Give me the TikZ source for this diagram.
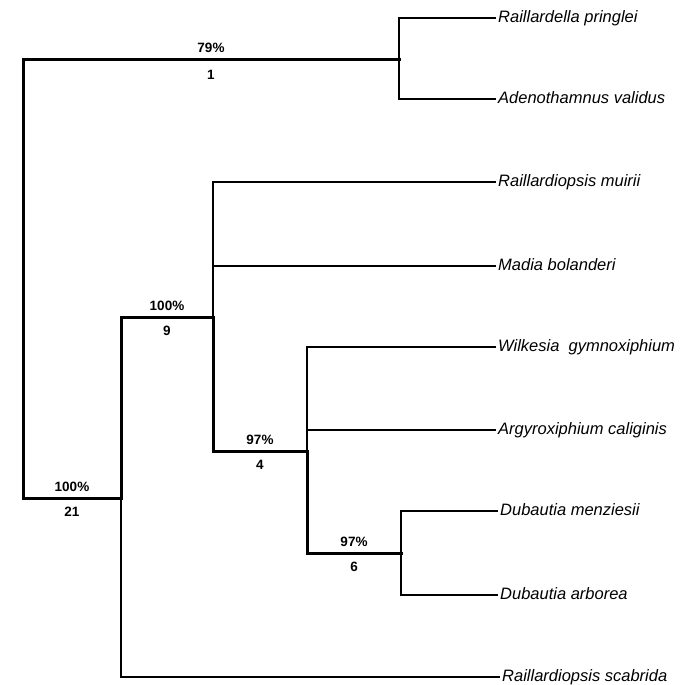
\documentclass[tikz,border=0pt]{standalone}
\usepackage{fontspec}
\setmainfont{Liberation Sans}
\begin{document}
\begin{tikzpicture}[x=1pt, y=-1pt, line cap=rect,
  branch/.style={line width=3pt},
  twig/.style={line width=2.7pt},
  taxon/.style={anchor=west, inner sep=3pt, text height=12pt, text depth=3.5pt,
    font=\fontsize{16.5}{19}\selectfont\itshape},
  support/.style={font=\fontsize{13.5}{16}\selectfont\bfseries, inner sep=3pt}]
  \useasboundingbox (0,0) rectangle (683,685);
  % clades
  \coordinate (root) at (23,280);
  \coordinate (c79) at (399,60);
  \coordinate (c21) at (121,498);
  \coordinate (c9) at (213,317);
  \coordinate (c4) at (307,451);
  \coordinate (c6) at (401,553);
  % taxa
  \node[taxon] (pringlei) at (495,18) {Raillardella pringlei};
  \node[taxon] (validus) at (495,99) {Adenothamnus validus};
  \node[taxon] (muirii) at (495,182) {Raillardiopsis muirii};
  \node[taxon] (bolanderi) at (495,266) {Madia bolanderi};
  \node[taxon] (gymnox) at (495,347) {Wilkesia\ \ gymnoxiphium};
  \node[taxon] (caliginis) at (495,430) {Argyroxiphium caliginis};
  \node[taxon] (menziesii) at (497,511) {Dubautia menziesii};
  \node[taxon] (arborea) at (497,595) {Dubautia arborea};
  \node[taxon] (scabrida) at (499,677) {Raillardiopsis scabrida};
  % tree
  \draw[branch] (root) |- (c79) node[support, pos=.75, above=3pt] {79\%} node[support, pos=.75, below=6pt] {1};
  \draw[branch] (root) |- (c21) node[support, pos=.75, above=2pt] {100\%} node[support, pos=.75, below=5pt] {21};
  \draw[twig] (c79) |- (pringlei.west);
  \draw[twig] (c79) |- (validus.west);
  \draw[branch] (c21) |- (c9) node[support, pos=.75, above=2pt] {100\%} node[support, pos=.75, below=5pt] {9};
  \draw[twig] (c21) |- (scabrida.west);
  \draw[twig] (c9) |- (muirii.west);
  \draw[twig] (c9) |- (bolanderi.west);
  \draw[branch] (c9) |- (c4) node[support, pos=.75, above=2pt] {97\%} node[support, pos=.75, below=5pt] {4};
  \draw[twig] (c4) |- (gymnox.west);
  \draw[twig] (c4) |- (caliginis.west);
  \draw[branch] (c4) |- (c6) node[support, pos=.75, above=2pt] {97\%} node[support, pos=.75, below=5pt] {6};
  \draw[twig] (c6) |- (menziesii.west);
  \draw[twig] (c6) |- (arborea.west);
\end{tikzpicture}
\end{document}
